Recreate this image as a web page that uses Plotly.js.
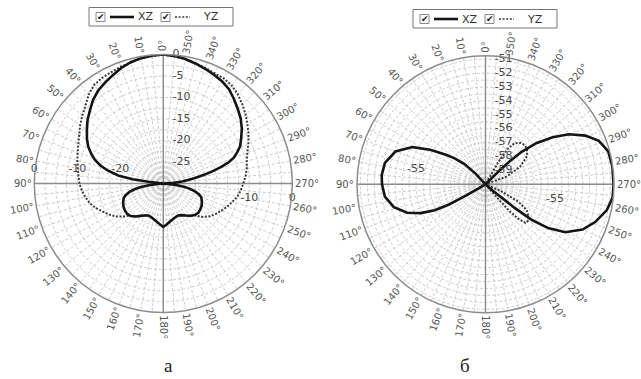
<!DOCTYPE html>
<html><head><meta charset="utf-8">
<script src="https://cdn.plot.ly/plotly-3.0.1.min.js"></script>
<style>html,body{margin:0;padding:0;background:#fff;}#chart{width:641px;height:379px;}</style>
</head><body><div id="chart"></div>
<script>
// ---------- DATA: pattern (а), dB ----------
const rangeA = [-30, 0];
const thetaA_XZ = [0,5,10,15,20,25,30,35,40,45,50,55,60,64,68,71,74,77,80,82,83.5,85,87,90,93,95,97,99,101,104,107,110,115,120,125,130,135,140,145,150,155,160,165,170,175,180,185,190,195,200,205,210,215,220,225,230,235,240,245,250,253,256,259,261,263,265,267,270,272,274,276,278,280,282,284,286,288,290,293,296,300,305,310,315,320,325,330,335,340,345,350,355,360];
const rA_XZ     = [0,-0.1,-0.4,-0.8,-1.4,-2.2,-2.9,-3.6,-4.6,-5.9,-7.0,-8.3,-9.5,-10.6,-12.0,-13.2,-14.8,-16.8,-19.5,-22.8,-26.5,-29.0,-30,-30,-30,-28.6,-26.6,-24.8,-23.3,-21.9,-20.9,-20.2,-19.7,-19.3,-19.1,-19.0,-19.3,-20.0,-20.8,-21.4,-21.8,-21.7,-21.4,-21.0,-20.5,-19.9,-20.5,-21.0,-21.4,-21.7,-21.8,-21.5,-20.9,-20.2,-19.6,-19.4,-19.5,-19.7,-20.1,-20.6,-21.3,-22.4,-23.8,-25.2,-27.0,-29.0,-30,-30,-30,-27.5,-25.6,-24.2,-22.5,-20.3,-18.1,-16.0,-14.0,-12.6,-11.3,-10.1,-9.1,-7.7,-6.5,-5.5,-4.4,-3.3,-2.6,-2.1,-1.6,-1.1,-0.6,-0.2,0];
const thetaA_YZ = [0,10,20,25,30,35,40,45,50,55,60,65,70,75,80,85,90,95,100,105,110,115,120,125,130,133,135,140,145,150,155,160,165,170,175,180,185,190,195,200,205,210,215,220,225,228,230,235,240,245,250,255,260,265,270,275,280,285,290,295,300,305,310,315,320,325,330,335,340,350,360];
const rA_YZ     = [0,-0.4,-1.1,-1.4,-1.6,-2.0,-3.0,-4.4,-5.4,-6.4,-7.4,-8.2,-8.8,-9.3,-9.8,-10.2,-10.5,-11.0,-11.6,-12.3,-13.3,-14.5,-15.5,-16.6,-18.1,-19.0,-19.3,-20.0,-20.8,-21.4,-21.8,-21.7,-21.4,-21.0,-20.5,-19.9,-20.5,-21.0,-21.4,-21.7,-21.8,-21.5,-20.9,-20.2,-19.6,-18.5,-17.9,-16.7,-15.9,-15.1,-14.2,-13.4,-12.5,-11.9,-11.4,-10.8,-10.3,-9.9,-9.2,-8.2,-7.1,-6.1,-5.0,-4.0,-3.0,-2.2,-1.8,-1.7,-1.4,-0.6,0];
const gridValsA  = [-27.5,-25,-22.5,-20,-17.5,-15,-12.5,-10,-7.5,-5,-2.5,0];
const radLabA_r  = [0,-5,-10,-15,-20,-25];
const radLabA_tx = ['0','-5','-10','-15','-20','-25'];
const axisValsA_r     = [0,-10,-20,-10,0];
const axisValsA_theta = [90,90,90,270,270];
const axisValsA_text  = ['0','-10','-20','-10','0'];

// ---------- DATA: pattern (б), dB ----------
const rangeB = [-60, -50.75];
const thetaB_XZ = [0,40,43,46,50,53,58,63,70,78,85,90,97,104,110,114,117,119,120,121,123,228,229,230,231,232.5,235,239,245,251,258,264,270,278,285,291,296,301,305,309,312,313.5,314.5,316,360];
const rB_XZ     = [-60,-60,-59,-57.9,-57.1,-56.5,-55.3,-54.1,-53.1,-52.6,-52.5,-52.55,-52.7,-53.2,-54.0,-54.9,-55.9,-57.0,-58.4,-59.5,-60,-60,-59.3,-58.8,-57.3,-55.8,-54.5,-53.3,-52.3,-51.65,-51.07,-50.8,-50.78,-50.78,-50.85,-51.26,-52.0,-53.0,-54.1,-55.3,-56.5,-57.5,-58.5,-60,-60];
const thetaB_YZ = [0,219,221,222,223.5,226,230,234,238,242,246,249,287,290,297,304,310,315,320,325,328,330,332,360];
const rB_YZ     = [-60,-60,-58.5,-57.3,-56.6,-56.0,-55.95,-56.2,-56.5,-57.3,-58.7,-60,-60,-58.4,-57.2,-56.4,-56.1,-56.0,-56.1,-56.4,-57.0,-58.2,-60,-60];
const gridValsB  = [-59.5,-59,-58.5,-58,-57.5,-57,-56.5,-56,-55.5,-55,-54.5,-54,-53.5,-53,-52.5,-52,-51.5,-51];
const radLabB_r  = [-51,-52,-53,-54,-55,-56,-57,-58,-59];
const radLabB_tx = ['-51','-52','-53','-54','-55','-56','-57','-58','-59'];
const axisValsB_r     = [-55,-55];
const axisValsB_theta = [90,270];
const axisValsB_text  = ['-55','-55'];

// ---------- common ----------
const angleTickVals = [0,10,20,30,40,50,60,70,80,90,100,110,120,130,140,150,160,170,180,190,200,210,220,230,240,250,260,270,280,290,300,310,320,330,340,350];
const seriesNames = ['XZ','YZ'];
const panelLabels = ['а','б'];

const W = 641, H = 379;
const P_A = {cx:163.3, cy:183.5, R:129};
const P_B = {cx:485.5, cy:184.3, R:128.5};
const txtColor = '#4a4a4a';
const gridColor = '#cdcdcd';
const gridDash = '3px,2px';

function domainOf(P){
  return {x:[(P.cx-P.R)/W,(P.cx+P.R)/W], y:[1-(P.cy+P.R)/H, 1-(P.cy-P.R)/H]};
}
function polarLayout(P, range, gv){
  return {
    domain: domainOf(P),
    bgcolor:'#fff',
    angularaxis:{rotation:90,direction:'counterclockwise',tickmode:'linear',tick0:0,dtick:5,
      showticklabels:false,ticks:'',showgrid:true,gridcolor:gridColor,gridwidth:1,griddash:gridDash,
      showline:true,linecolor:'#8c8c8c',linewidth:1.5},
    radialaxis:{range:range,angle:90,tickmode:'array',tickvals:gv,showticklabels:false,
      ticks:'',showline:false,showgrid:true,gridcolor:gridColor,gridwidth:1,griddash:gridDash}
  };
}
function crossTrace(sub, range){
  const hi = range[1], lo = range[0];
  return {type:'scatterpolar',subplot:sub,mode:'lines',
    r:[hi,lo,hi,null,hi,lo,hi],theta:[0,0,180,null,90,90,270],
    line:{color:'#8c8c8c',width:1.4},hoverinfo:'skip',showlegend:false,connectgaps:false,cliponaxis:false};
}
function curve(sub, th, r, dashed, name){
  return {type:'scatterpolar',subplot:sub,mode:'lines',name:name,theta:th,r:r,showlegend:false,
    line:dashed?{color:'#3a3a3a',width:2,dash:'2px,1.6px'}:{color:'#141414',width:2.6},cliponaxis:true};
}
function textTrace(sub, r, th, txt, pos){
  return {type:'scatterpolar',subplot:sub,mode:'markers+text',r:r,theta:th,text:txt,textposition:pos,
    marker:{size:13,opacity:0,color:'#fff'},
    textfont:{family:'DejaVu Sans',size:11,color:txtColor},showlegend:false,hoverinfo:'skip',cliponaxis:false};
}

const data = [
  crossTrace('polar', rangeA),
  curve('polar', thetaA_YZ, rA_YZ, true, seriesNames[1]),
  curve('polar', thetaA_XZ, rA_XZ, false, seriesNames[0]),
  textTrace('polar', radLabA_r, radLabA_r.map(()=>0), radLabA_tx, 'middle right'),
  textTrace('polar', axisValsA_r, axisValsA_theta, axisValsA_text, axisValsA_theta.map(t=>t<180?'top center':'bottom center')),
  crossTrace('polar2', rangeB),
  curve('polar2', thetaB_YZ, rB_YZ, true, seriesNames[1]),
  curve('polar2', thetaB_XZ, rB_XZ, false, seriesNames[0]),
  textTrace('polar2', radLabB_r, radLabB_r.map(()=>0), radLabB_tx, 'middle right'),
  textTrace('polar2', axisValsB_r, axisValsB_theta, axisValsB_text, axisValsB_theta.map(t=>t<180?'top center':'bottom center'))
];

const annotations = [];
const shapes = [];
function angLabels(P){
  angleTickVals.forEach(t=>{
    const txt = t + '°';
    const w = String(t).length*6.3 + 5;
    const d = P.R + 3 + w/2;
    const rad = t*Math.PI/180;
    const x = P.cx - Math.sin(rad)*d, y = P.cy - Math.cos(rad)*d;
    const ang = (t>0 && t<180) ? 90 - t : 270 - (t===0?360:t);
    annotations.push({xref:'paper',yref:'paper',x:x/W,y:1-y/H,text:txt,showarrow:false,textangle:ang,
      xanchor:'center',yanchor:'middle',font:{family:'DejaVu Sans',size:10,color:'#555'}});
  });
}
angLabels(P_A); angLabels(P_B);

function legendBox(bx, by){
  const X = v=>v/W, Y = v=>1-v/H;
  shapes.push({type:'rect',xref:'paper',yref:'paper',x0:X(bx),x1:X(bx+144),y0:Y(by),y1:Y(by+18.5),line:{color:'#777',width:1},fillcolor:'#fff'});
  [7,72].forEach(off=>{
    shapes.push({type:'rect',xref:'paper',yref:'paper',x0:X(bx+off),x1:X(bx+off+9),y0:Y(by+5),y1:Y(by+14),line:{color:'#888',width:1},fillcolor:'#fff'});
    annotations.push({xref:'paper',yref:'paper',x:X(bx+off+4.7),y:Y(by+9.6),text:'✔',showarrow:false,xanchor:'center',yanchor:'middle',font:{family:'DejaVu Sans',size:9,color:'#111'}});
  });
  shapes.push({type:'line',xref:'paper',yref:'paper',x0:X(bx+21),x1:X(bx+45),y0:Y(by+9.5),y1:Y(by+9.5),line:{color:'#141414',width:2.6}});
  shapes.push({type:'line',xref:'paper',yref:'paper',x0:X(bx+86),x1:X(bx+101),y0:Y(by+9.5),y1:Y(by+9.5),line:{color:'#3a3a3a',width:1.6,dash:'2px,1.6px'}});
  annotations.push({xref:'paper',yref:'paper',x:X(bx+47),y:Y(by+9.5),text:seriesNames[0],showarrow:false,xanchor:'left',yanchor:'middle',font:{family:'DejaVu Sans',size:11,color:'#333'}});
  annotations.push({xref:'paper',yref:'paper',x:X(bx+112),y:Y(by+9.5),text:seriesNames[1],showarrow:false,xanchor:'left',yanchor:'middle',font:{family:'DejaVu Sans',size:11,color:'#333'}});
}
legendBox(89, 7.5);
legendBox(413, 9.5);

annotations.push({xref:'paper',yref:'paper',x:168/W,y:1-365/H,text:panelLabels[0],showarrow:false,xanchor:'center',yanchor:'middle',font:{family:'Liberation Serif',size:19,color:'#222'}});
annotations.push({xref:'paper',yref:'paper',x:465/W,y:1-365/H,text:panelLabels[1],showarrow:false,xanchor:'center',yanchor:'middle',font:{family:'Liberation Serif',size:19,color:'#222'}});

const layout = {
  width:W,height:H,margin:{l:0,r:0,t:0,b:0},paper_bgcolor:'#fff',showlegend:false,
  polar: polarLayout(P_A, rangeA, gridValsA),
  polar2: polarLayout(P_B, rangeB, gridValsB),
  annotations:annotations, shapes:shapes,
  font:{family:'DejaVu Sans'}
};
Plotly.newPlot('chart', data, layout, {displayModeBar:false, staticPlot:true});
</script>
</body></html>
